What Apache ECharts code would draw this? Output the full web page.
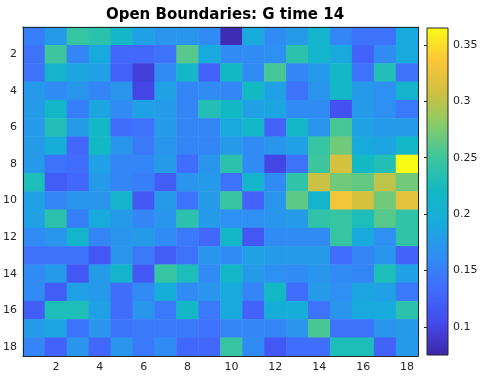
<!DOCTYPE html>
<html>
<head>
<meta charset="utf-8">
<script src="https://cdn.jsdelivr.net/npm/echarts@6/dist/echarts.min.js"></script>
<style>
  html, body { margin: 0; padding: 0; background: #fff; }
  #chart { width: 482px; height: 376px; }
</style>
</head>
<body>
<div id="chart"></div>
<script>
// columns / rows of the grid (row 1 is at the top)
const cols = ['1','2','3','4','5','6','7','8','9','10','11','12','13','14','15','16','17','18'];
const rows = ['1','2','3','4','5','6','7','8','9','10','11','12','13','14','15','16','17','18'];

// G values, one array per row
const r1  = [0.15, 0.175, 0.246, 0.238, 0.215, 0.18, 0.17, 0.17, 0.16, 0.08, 0.19, 0.16, 0.175, 0.21, 0.155, 0.14, 0.14, 0.19];
const r2  = [0.14, 0.25, 0.155, 0.19, 0.13, 0.13, 0.14, 0.26, 0.19, 0.16, 0.16, 0.165, 0.238, 0.21, 0.19, 0.125, 0.16, 0.19];
const r3  = [0.14, 0.21, 0.185, 0.18, 0.125, 0.095, 0.16, 0.215, 0.125, 0.22, 0.16, 0.254, 0.155, 0.175, 0.215, 0.14, 0.232, 0.14];
const r4  = [0.175, 0.16, 0.17, 0.155, 0.17, 0.1, 0.18, 0.155, 0.16, 0.155, 0.22, 0.18, 0.14, 0.17, 0.215, 0.175, 0.165, 0.21];
const r5  = [0.175, 0.215, 0.15, 0.185, 0.16, 0.18, 0.175, 0.155, 0.232, 0.22, 0.18, 0.185, 0.16, 0.16, 0.11, 0.175, 0.165, 0.145];
const r6  = [0.175, 0.232, 0.175, 0.215, 0.135, 0.14, 0.175, 0.155, 0.155, 0.19, 0.215, 0.125, 0.215, 0.17, 0.254, 0.18, 0.175, 0.175];
const r7  = [0.175, 0.195, 0.13, 0.22, 0.17, 0.145, 0.17, 0.155, 0.155, 0.175, 0.16, 0.17, 0.18, 0.246, 0.27, 0.19, 0.185, 0.215];
const r8  = [0.175, 0.14, 0.135, 0.18, 0.155, 0.155, 0.175, 0.135, 0.17, 0.238, 0.16, 0.1, 0.14, 0.25, 0.31, 0.22, 0.232, 0.365];
const r9  = [0.228, 0.12, 0.13, 0.175, 0.155, 0.15, 0.12, 0.17, 0.175, 0.14, 0.21, 0.16, 0.242, 0.305, 0.27, 0.265, 0.3, 0.27];
const r10 = [0.18, 0.155, 0.17, 0.17, 0.21, 0.115, 0.175, 0.14, 0.175, 0.246, 0.125, 0.17, 0.262, 0.21, 0.33, 0.31, 0.27, 0.32];
const r11 = [0.18, 0.238, 0.15, 0.19, 0.175, 0.155, 0.17, 0.238, 0.175, 0.165, 0.165, 0.17, 0.175, 0.242, 0.246, 0.228, 0.26, 0.242];
const r12 = [0.16, 0.17, 0.21, 0.155, 0.17, 0.175, 0.16, 0.145, 0.13, 0.215, 0.115, 0.16, 0.16, 0.16, 0.246, 0.19, 0.165, 0.242];
const r13 = [0.14, 0.14, 0.14, 0.115, 0.17, 0.145, 0.12, 0.14, 0.17, 0.16, 0.18, 0.175, 0.175, 0.175, 0.135, 0.155, 0.17, 0.125];
const r14 = [0.16, 0.175, 0.115, 0.175, 0.21, 0.115, 0.246, 0.228, 0.16, 0.215, 0.175, 0.165, 0.16, 0.17, 0.16, 0.155, 0.228, 0.18];
const r15 = [0.16, 0.12, 0.18, 0.175, 0.135, 0.16, 0.195, 0.16, 0.17, 0.19, 0.155, 0.22, 0.135, 0.175, 0.165, 0.185, 0.18, 0.145];
const r16 = [0.12, 0.228, 0.228, 0.18, 0.135, 0.17, 0.145, 0.215, 0.145, 0.19, 0.125, 0.195, 0.195, 0.14, 0.17, 0.19, 0.19, 0.238];
const r17 = [0.175, 0.185, 0.14, 0.17, 0.14, 0.145, 0.145, 0.145, 0.14, 0.155, 0.155, 0.155, 0.17, 0.254, 0.14, 0.14, 0.17, 0.175];
const r18 = [0.155, 0.125, 0.17, 0.13, 0.17, 0.145, 0.16, 0.13, 0.13, 0.246, 0.16, 0.115, 0.135, 0.135, 0.228, 0.228, 0.125, 0.175];
const gRows = [r1, r2, r3, r4, r5, r6, r7, r8, r9, r10, r11, r12, r13, r14, r15, r16, r17, r18];

// colour limits and colorbar ticks
const cMin = 0.075;
const cMax = 0.365;
const cbarTicks = [0.1, 0.15, 0.2, 0.25, 0.3, 0.35];

// parula
const parula = ['#3e26a8', '#444aee', '#416bfd', '#308df4', '#17abdc', '#12b9c4',
                '#3ac69f', '#85cc6a', '#d0c03f', '#fcc638', '#f9fb14'];

const heatData = [];
gRows.forEach((row, y) => {
  row.forEach((v, x) => heatData.push([x, y, v]));
});

const evenIdx = (i) => i % 2 === 1;
const txt = '#262626';
const font = 'DejaVu Sans';

const chart = echarts.init(document.getElementById('chart'));

const stops = parula.map((c, i) => ({ offset: i / (parula.length - 1), color: c }));

chart.setOption({
  animation: false,
  title: {
    text: 'Open Boundaries: G time 14',
    left: 220,
    top: 3,
    textAlign: 'center',
    textStyle: { fontFamily: font, fontSize: 15, fontWeight: 'bold', color: '#000' }
  },
  grid: [
    { left: 22, top: 27, width: 396, height: 329 },
    {
      left: 427, top: 28, width: 21, height: 327, show: true,
      backgroundColor: new echarts.graphic.LinearGradient(0, 1, 0, 0, stops),
      borderColor: txt, borderWidth: 1
    }
  ],
  xAxis: [
    {
      type: 'category', gridIndex: 0, data: cols, position: 'bottom', z: 10,
      axisLine: { lineStyle: { color: txt, width: 1 } },
      axisTick: { inside: true, length: 4, alignWithLabel: true, interval: evenIdx, lineStyle: { color: txt } },
      axisLabel: { interval: evenIdx, color: txt, fontFamily: font, fontSize: 11, margin: 6 },
      splitLine: { show: false }
    },
    {
      type: 'category', gridIndex: 0, data: cols, position: 'top', z: 10,
      axisLine: { lineStyle: { color: txt, width: 1 } },
      axisTick: { inside: true, length: 4, alignWithLabel: true, interval: evenIdx, lineStyle: { color: txt } },
      axisLabel: { show: false },
      splitLine: { show: false }
    },
    {
      type: 'value', gridIndex: 1, show: false, min: 0, max: 1
    }
  ],
  yAxis: [
    {
      type: 'category', gridIndex: 0, data: rows, inverse: true, position: 'left', z: 10,
      axisLine: { lineStyle: { color: txt, width: 1 } },
      axisTick: { inside: true, length: 4, alignWithLabel: true, interval: evenIdx, lineStyle: { color: txt } },
      axisLabel: { interval: evenIdx, color: txt, fontFamily: font, fontSize: 11, margin: 6 },
      splitLine: { show: false }
    },
    {
      type: 'category', gridIndex: 0, data: rows, inverse: true, position: 'right', z: 10,
      axisLine: { lineStyle: { color: txt, width: 1 } },
      axisTick: { inside: true, length: 4, alignWithLabel: true, interval: evenIdx, lineStyle: { color: txt } },
      axisLabel: { show: false },
      splitLine: { show: false }
    },
    {
      type: 'value', gridIndex: 1, position: 'right', min: cMin, max: cMax, z: 10,
      axisLine: { show: false },
      axisTick: { show: true, inside: true, length: 3, customValues: cbarTicks, lineStyle: { color: txt } },
      axisLabel: { customValues: cbarTicks, color: txt, fontFamily: font, fontSize: 11, margin: 5 },
      splitLine: { show: false }
    }
  ],
  visualMap: {
    show: false,
    min: cMin,
    max: cMax,
    seriesIndex: 0,
    inRange: { color: parula }
  },
  series: [
    {
      type: 'heatmap',
      xAxisIndex: 0,
      yAxisIndex: 0,
      data: heatData,
      itemStyle: { borderWidth: 0 },
      emphasis: { disabled: true },
      progressive: 0
    }
  ]
});
</script>
</body>
</html>
